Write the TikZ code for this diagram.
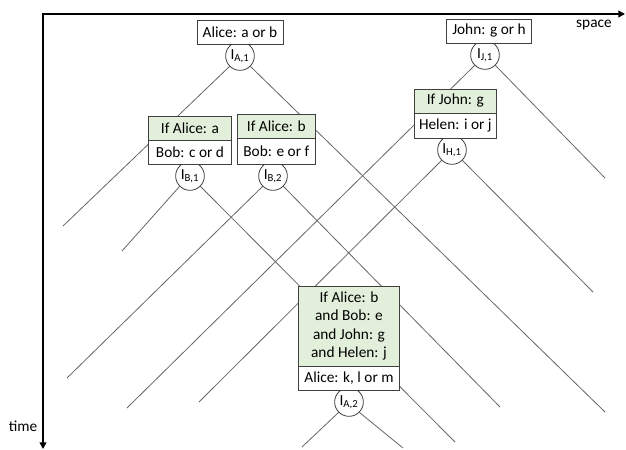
\documentclass[tikz,border=0pt]{standalone}
\usepackage{fontspec}
\setmainfont{Carlito}
\usetikzlibrary{positioning,% boxes stacked on the circles
backgrounds,%                 rays go behind the boxes
arrows.meta}
\definecolor{condgreen}{HTML}{E2EFDA}
\definecolor{boxline}{HTML}{404040}
\tikzset{every node/.style={font=\fontsize{11.5}{13.7}\selectfont},
  box/.style={draw=boxline, fill=white, line width=0.6pt, outer sep=0pt,
    minimum height=18pt, inner sep=1pt},
  cond/.style={box, fill=condgreen},
  ind/.style={circle, draw=boxline, fill=white, line width=0.6pt,
    minimum size=21.5pt, inner sep=0pt},
  ray/.style={black!60, line width=0.6pt},
  axis/.style={line width=1.5pt,
    {Triangle[length=5pt,width=5pt]}-{Triangle[length=5pt,width=5pt]}}}

\begin{document}
\begin{tikzpicture}[x=0.75pt, y=-0.75pt]
  \useasboundingbox (0,0) rectangle (626,450);
  % axes
  \coordinate (O) at (43,14);
  \coordinate (xend) at (625,14);
  \coordinate (tend) at (43,449);
  \draw[axis] (tend) -- (O) -- (xend);
  \node (space) at (594,25) {space};
  \node (time) at (23,426) {time};
  % first choices
  \node[ind] (IA1) at (240,56) {I\textsubscript{A,1}};
  \node[box, minimum width=64.5pt, above=-2pt of IA1] (A1) {Alice: a or b};
  \node[ind] (IJ1) at (485,55) {I\textsubscript{J,1}};
  \node[box, minimum width=64pt, above=-2pt of IJ1, xshift=3pt] (J1) {John: g or h};
  % Bob and Helen
  \node[ind] (IB1) at (190,176) {I\textsubscript{B,1}};
  \node[box, minimum width=62pt, above=-2pt of IB1] (B1) {Bob: c or d};
  \node[cond, minimum width=62pt, above=0pt of B1] (CA) {If Alice: a};
  \node[ind] (IB2) at (273,176) {I\textsubscript{B,2}};
  \node[box, minimum width=58pt, minimum height=19.5pt, above=-2pt of IB2, xshift=2.5pt] (B2) {Bob: e or f};
  \node[cond, minimum width=58pt, above=0pt of B2] (CB) {If Alice: b};
  \node[ind] (IH1) at (452,150) {I\textsubscript{H,1}};
  \node[box, minimum width=62pt, minimum height=18.75pt, above=-2pt of IH1, xshift=2.5pt] (H1) {Helen: i or j};
  \node[cond, minimum width=62pt, above=0pt of H1] (CJ) {If John: g};
  % second choice of Alice
  \node[ind] (IA2) at (349,402) {I\textsubscript{A,2}};
  \node[box, minimum width=75.75pt, above=-2pt of IA2] (A2) {Alice: k, l or m};
  \node[cond, minimum width=75.75pt, minimum height=60pt, align=center, above=0pt of A2] (CAll)
    {If Alice: b\\and Bob: e\\and John: g\\and Helen: j};
  % rays
  \foreach \e/\x/\y in {eA1l/63/226, eA1r/605/412, eB1l/122/251, eB1r/455/442,
      eB2l/67/378, eB2r/500/407, eJ1l/127/408, eJ1r/605/178,
      eH1l/199/402, eH1r/593/292, eA2l/302/447, eA2r/403/448}
    \coordinate (\e) at (\x,\y);
  \begin{scope}[on background layer]
    \foreach \n/\a/\e in {IA1/-135/eA1l, IA1/-45/eA1r, IB1/-135/eB1l, IB1/-45/eB1r,
        IB2/-135/eB2l, IB2/-45/eB2r, IJ1/-135/eJ1l, IJ1/-45/eJ1r,
        IH1/-135/eH1l, IH1/-45/eH1r, IA2/-135/eA2l, IA2/-45/eA2r}
      \draw[ray] (\n.\a) -- (\e);
  \end{scope}
\end{tikzpicture}
\end{document}
